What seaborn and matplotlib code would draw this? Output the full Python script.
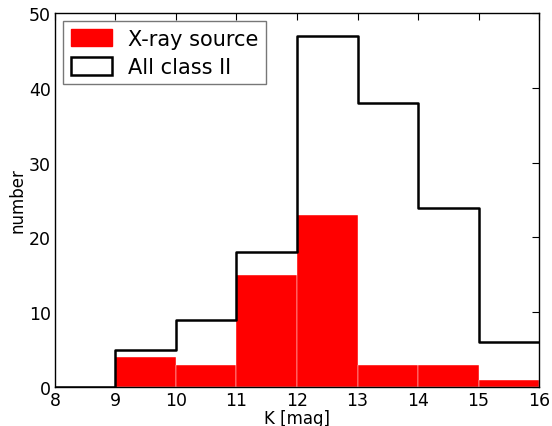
import matplotlib
matplotlib.use("Agg")
import matplotlib.pyplot as plt
import seaborn as sns
import numpy as np

bin_edges = [8, 9, 10, 11, 12, 13, 14, 15, 16]
xray_counts = [0, 4, 3, 15, 23, 3, 3, 1]
classII_counts = [0, 5, 9, 18, 47, 38, 24, 6]

centers = [(a + b) / 2 for a, b in zip(bin_edges[:-1], bin_edges[1:])]

sns.set_theme(style="white")
plt.rcParams['font.family'] = ['DejaVu Sans']
plt.rcParams['text.color'] = 'black'
plt.rcParams['axes.labelcolor'] = 'black'

fig, ax = plt.subplots(figsize=(5.52, 4.27), dpi=100)
fig.subplots_adjust(left=0.0996, right=0.9765, top=0.967, bottom=0.0913)

sns.histplot(x=centers, weights=xray_counts, bins=bin_edges, element="bars",
             color="#ff0000", alpha=1, edgecolor="white", linewidth=0.3,
             ax=ax, label="X-ray source")
sns.histplot(x=centers, weights=classII_counts, bins=bin_edges, element="step",
             fill=False, color="black", linewidth=1.8, ax=ax, label="All class II")

ax.set_xlim(8, 16)
ax.set_ylim(0, 50)
ax.set_xticks(range(8, 17))
ax.set_yticks(range(0, 51, 10))
ax.set_xlabel("K [mag]", fontsize=12, labelpad=0)
ax.set_ylabel("number", fontsize=12, labelpad=2)
ax.tick_params(direction="in", top=True, right=True, length=5, width=0.8,
               labelsize=12.5, colors="black", pad=3)
for s in ax.spines.values():
    s.set_color("black")
    s.set_linewidth(1.0)

from matplotlib.patches import Patch
handles = [Patch(facecolor="#ff0000", edgecolor="#ff0000"),
           Patch(facecolor="white", edgecolor="black", linewidth=1.8)]
leg = ax.legend(handles, ["X-ray source", "All class II"], loc="upper left",
                fontsize=15, frameon=True, fancybox=False, borderpad=0.35,
                handlelength=2.0, handleheight=0.9, handletextpad=0.75,
                labelspacing=0.4, borderaxespad=0.4)
leg.get_frame().set_edgecolor("#555555")
leg.get_frame().set_linewidth(1.0)

fig.savefig("out.png", dpi=100)
